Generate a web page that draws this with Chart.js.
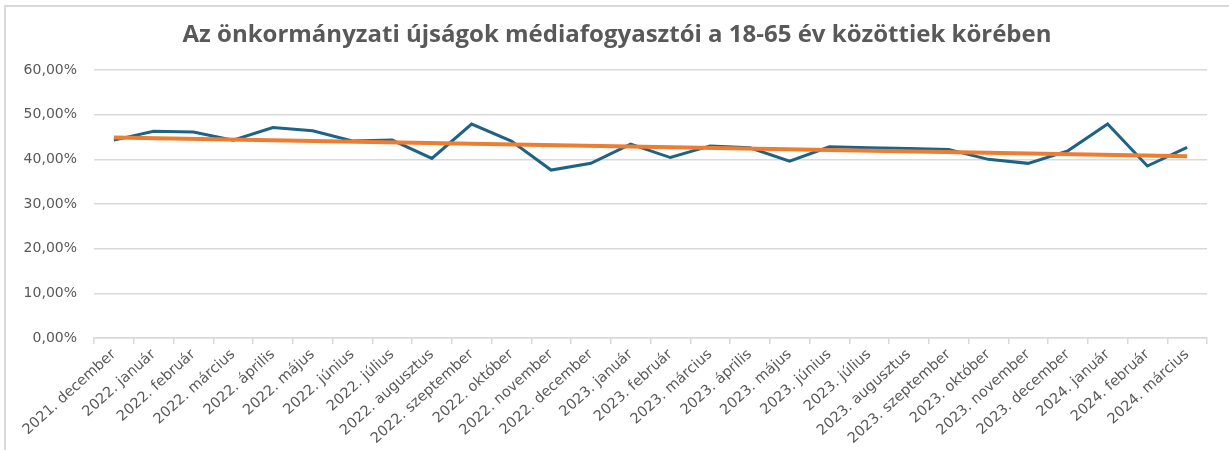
<!DOCTYPE html>
<html>
<head>
<meta charset="utf-8">
<script src="https://cdn.jsdelivr.net/npm/chart.js@4"></script>
<style>
  html, body { margin: 0; padding: 0; background: #fff; }
  #wrap { position: relative; width: 1229px; height: 450px; }
  #frame { position: absolute; left: 4px; top: 5px; right: 0; bottom: 0; border-top: 2px solid #d9d9d9; border-left: 2px solid #d9d9d9; pointer-events: none; }
  canvas { position: absolute; left: 0; top: 0; }
</style>
</head>
<body>
<div id="wrap">
  <canvas id="c" width="1229" height="450"></canvas>
  <div id="frame"></div>
</div>
<script>
const titleText = "Az önkormányzati újságok médiafogyasztói a 18-65 év közöttiek körében";

const categories = [
  "2021. december",
  "2022. január", "2022. február", "2022. március", "2022. április", "2022. május", "2022. június",
  "2022. július", "2022. augusztus", "2022. szeptember", "2022. október", "2022. november", "2022. december",
  "2023. január", "2023. február", "2023. március", "2023. április", "2023. május", "2023. június",
  "2023. július", "2023. augusztus", "2023. szeptember", "2023. október", "2023. november", "2023. december",
  "2024. január", "2024. február", "2024. március"
];

// share of media consumers (%)
const consumers = [
  44.3,
  46.3, 46.1, 44.3, 47.1, 46.4, 44.1,
  44.3, 40.2, 47.9, 44.1, 37.6, 39.1,
  43.4, 40.4, 43.0, 42.6, 39.6, 42.8,
  42.6, 42.4, 42.2, 40.0, 39.1, 41.9,
  47.9, 38.5, 42.7
];

// linear trendline endpoints
const trendStart = 44.9;
const trendEnd = 40.7;

const yTicks = [0, 10, 20, 30, 40, 50, 60];

const trend = categories.map((_, i) => i === 0 ? trendStart : (i === categories.length - 1 ? trendEnd : null));

// Title drawn as canvas text, centred over the whole chart frame
const titlePlugin = {
  id: 'frameTitle',
  afterDraw(chart) {
    const ctx = chart.ctx;
    ctx.save();
    ctx.font = 'bold 24px "Open Sans"';
    ctx.fillStyle = '#595959';
    ctx.textAlign = 'center';
    ctx.textBaseline = 'middle';
    ctx.fillText(titleText, 617, 35);
    ctx.restore();
  }
};

new Chart(document.getElementById('c'), {
  type: 'line',
  data: {
    labels: categories,
    datasets: [
      {
        label: 'Lineáris trend',
        data: trend,
        borderColor: '#ED7D31',
        borderWidth: 4,
        pointRadius: 0,
        spanGaps: true,
        order: 1
      },
      {
        label: 'Médiafogyasztók',
        data: consumers,
        borderColor: '#1F6384',
        borderWidth: 3,
        pointRadius: 0,
        tension: 0,
        order: 2
      }
    ]
  },
  plugins: [titlePlugin],
  options: {
    responsive: false,
    animation: false,
    layout: { padding: { left: 0, right: 22, top: 70, bottom: 0 } },
    plugins: {
      legend: { display: false },
      tooltip: { enabled: false },
      title: { display: false }
    },
    scales: {
      x: {
        offset: true,
        afterFit: (axis) => { axis.height = 112; },
        grid: {
          offset: true,
          drawOnChartArea: false,
          drawTicks: true,
          tickLength: 6,
          color: '#d9d9d9',
          lineWidth: 1.5
        },
        border: { display: true, color: '#d9d9d9', width: 1.5 },
        ticks: {
          autoSkip: false,
          maxRotation: 42,
          minRotation: 42,
          color: '#595959',
          font: { family: 'DejaVu Sans', size: 14.5 },
          padding: 2
        }
      },
      y: {
        min: 0,
        max: 60,
        afterBuildTicks: (axis) => { axis.ticks = yTicks.map(v => ({ value: v })); },
        afterFit: (axis) => { axis.width = 94; },
        grid: { color: '#d9d9d9', lineWidth: 1.5, drawTicks: false },
        border: { display: false },
        ticks: {
          color: '#595959',
          font: { family: 'DejaVu Sans', size: 14 },
          padding: 17,
          callback: (v) => v.toFixed(2).replace('.', ',') + '%'
        }
      }
    }
  }
});
</script>
</body>
</html>
